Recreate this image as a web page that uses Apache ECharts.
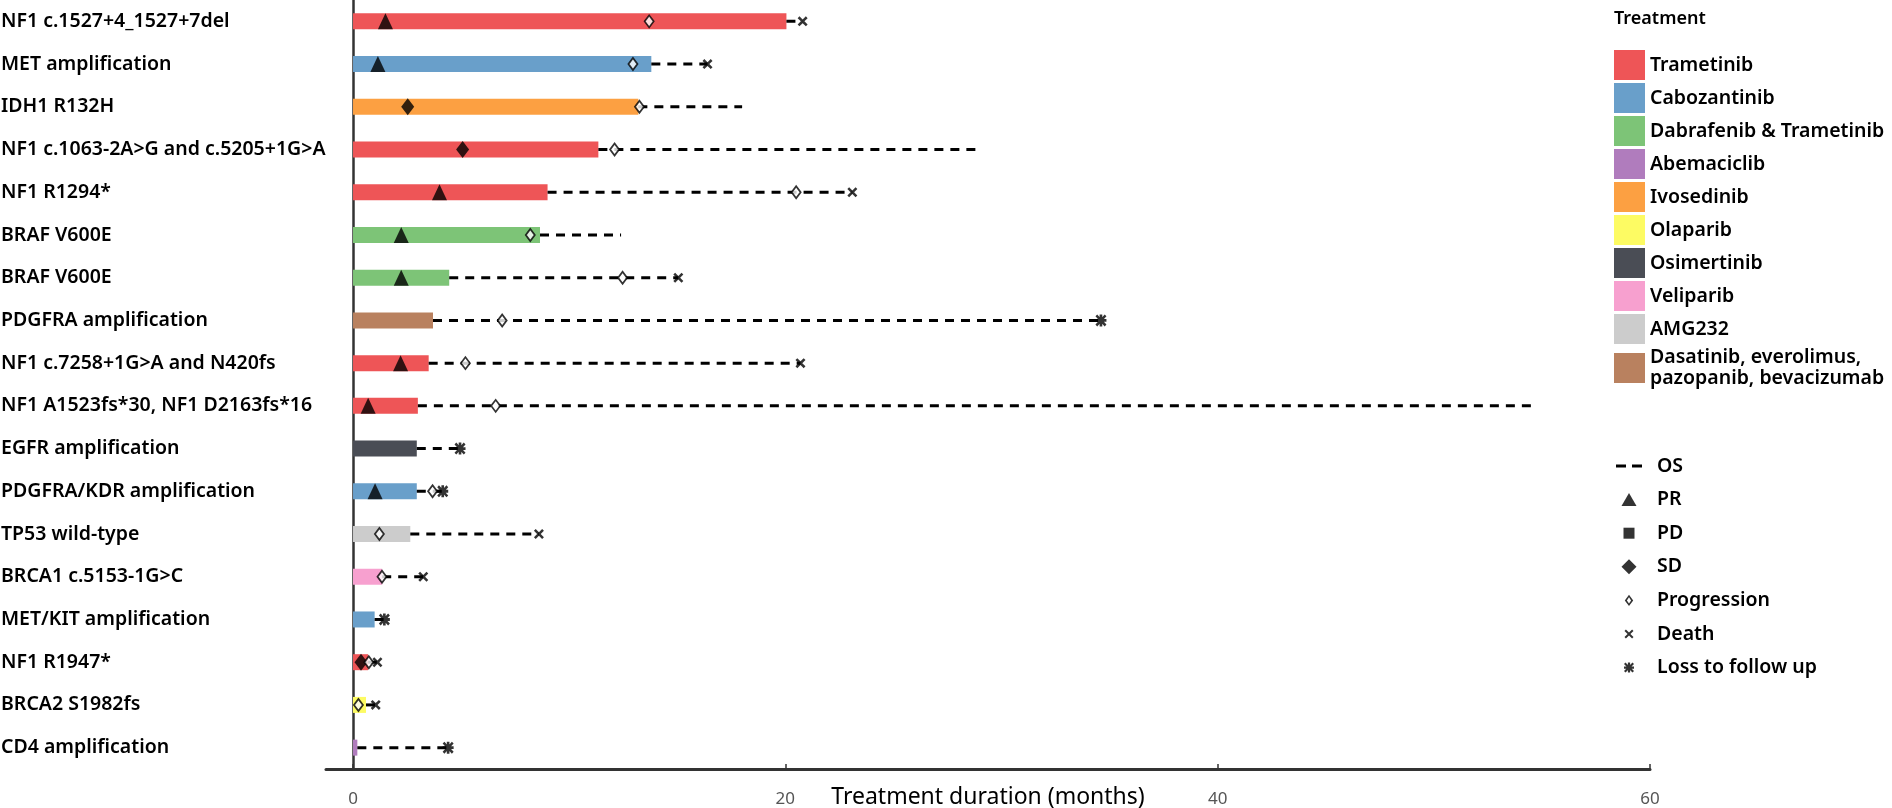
<!DOCTYPE html>
<html>
<head>
<meta charset="utf-8">
<script src="https://cdn.jsdelivr.net/npm/echarts@6/dist/echarts.min.js"></script>
<style>
  html, body { margin: 0; padding: 0; background: #fff; }
  #main { width: 1892px; height: 808px; }
</style>
</head>
<body>
<div id="main"></div>
<script>
// rows, top to bottom
var genes = [
    'NF1 c.1527+4_1527+7del', 'MET amplification', 'IDH1 R132H',
    'NF1 c.1063-2A>G and c.5205+1G>A', 'NF1 R1294*', 'BRAF V600E', 'BRAF V600E',
    'PDGFRA amplification', 'NF1 c.7258+1G>A and N420fs', 'NF1 A1523fs*30, NF1 D2163fs*16',
    'EGFR amplification', 'PDGFRA/KDR amplification', 'TP53 wild-type', 'BRCA1 c.5153-1G>C',
    'MET/KIT amplification', 'NF1 R1947*', 'BRCA2 S1982fs', 'CD4 amplification'
];
var rowTreatment = [
    'Trametinib', 'Cabozantinib', 'Ivosedinib', 'Trametinib', 'Trametinib',
    'Dabrafenib & Trametinib', 'Dabrafenib & Trametinib',
    'Dasatinib, everolimus, pazopanib, bevacizumab', 'Trametinib', 'Trametinib',
    'Osimertinib', 'Cabozantinib', 'AMG232', 'Veliparib', 'Cabozantinib',
    'Trametinib', 'Olaparib', 'Abemaciclib'
];
// treatment duration (months)
var duration = [20.05, 13.8, 13.2, 11.35, 9.0, 8.65, 4.45, 3.7, 3.5, 3.0, 2.95, 2.95, 2.65, 1.35, 1.0, 0.7, 0.6, 0.2];
// overall survival end (months)
var os = [20.8, 16.4, 18.0, 29.05, 23.1, 12.4, 15.05, 34.6, 20.7, 54.6, 4.95, 4.15, 8.6, 3.25, 1.45, 1.1, 1.05, 4.4];

// events: [months, row]
var prPoints = [[1.5, 0], [1.15, 1], [4.0, 4], [2.23, 5], [2.23, 6], [2.2, 8], [0.7, 9], [1.02, 11]];
var pdPoints = [];
var sdPoints = [[2.53, 2], [5.07, 3], [0.37, 15]];
var progressionPoints = [[13.7, 0], [12.95, 1], [13.25, 2], [12.1, 3], [20.5, 4], [8.2, 5], [12.47, 6],
    [6.9, 7], [5.2, 8], [6.6, 9], [3.68, 11], [1.22, 12], [1.34, 13], [0.73, 15], [0.25, 16]];
var deathPoints = [[20.8, 0], [16.4, 1], [23.1, 4], [15.05, 6], [20.7, 8], [8.6, 12], [3.25, 13], [1.13, 15], [1.05, 16]];
var lossPoints = [[34.6, 7], [4.95, 10], [4.15, 11], [1.45, 14], [4.4, 17]];

var treatments = ['Trametinib', 'Cabozantinib', 'Dabrafenib & Trametinib', 'Abemaciclib', 'Ivosedinib',
    'Olaparib', 'Osimertinib', 'Veliparib', 'AMG232', 'Dasatinib, everolimus, pazopanib, bevacizumab'];
var treatmentColors = ['#ee5557', '#699fca', '#7dc477', '#b07cbd', '#fca042',
    '#fdfb63', '#4a4d55', '#f7a0cf', '#cccccc', '#b9815f'];

var xTicks = [0, 20, 40, 60];

var FONT = 'Noto Sans';

// symbol paths
var crossPath = 'path://M0 1.8L1.8 0L5 3.2L8.2 0L10 1.8L6.8 5L10 8.2L8.2 10L5 6.8L1.8 10L0 8.2L3.2 5Z';
var starPath = 'path://M3.8 0h2.4v10h-2.4zM0 3.8h10v2.4H0zM1.6 0L10 8.4L8.4 10L0 1.6ZM10 1.6L1.6 10L0 8.4L8.4 0Z';

// legend icons (36x20 box, symbol centred at 13,10)
var pad = 'M0 0M36 20';
var icons = {
    'OS': 'path://' + pad + 'M0 8.6h10v2.8H0zM16 8.6h10v2.8H16z',
    'PR': 'path://' + pad + 'M13 3.5L20.5 16.5L5.5 16.5Z',
    'PD': 'path://' + pad + 'M7.5 4.5h11v11h-11z',
    'SD': 'path://' + pad + 'M13 2.5L20.5 10L13 17.5L5.5 10Z',
    'Progression': 'path://' + pad + 'M13 4.3L17.2 10L13 15.7L8.8 10ZM13 6.9L10.9 10L13 13.1L15.1 10Z',
    'Death': 'path://' + pad + 'M8.5 6.9L9.9 5.5L13 8.6L16.1 5.5L17.5 6.9L14.4 10L17.5 13.1L16.1 14.5L13 11.4L9.9 14.5L8.5 13.1L11.6 10Z',
    'Loss to follow up': 'path://' + pad + 'M11.9 5h2.2v10h-2.2zM8 8.9h10v2.2H8zM9.5 5L18 13.5L16.5 15L8 6.5ZM18 6.5L9.5 15L8 13.5L16.5 5Z'
};
var eventNames = ['OS', 'PR', 'PD', 'SD', 'Progression', 'Death', 'Loss to follow up'];

var myChart = echarts.init(document.getElementById('main'));

var series = [];
treatments.forEach(function (t, i) {
    series.push({
        name: t,
        type: 'bar',
        stack: 'dur',
        barWidth: 16,
        itemStyle: { color: treatmentColors[i] },
        data: duration.map(function (d, r) { return rowTreatment[r] === t ? d : '-'; }),
        z: 1
    });
});

series.push({
    name: 'OS',
    type: 'custom',
    itemStyle: { color: '#000' },
    renderItem: function (params, api) {
        var a = api.coord([api.value(0), api.value(2)]);
        var b = api.coord([api.value(1), api.value(2)]);
        return {
            type: 'line',
            shape: { x1: a[0], y1: a[1], x2: b[0], y2: b[1] },
            style: { stroke: '#000', lineWidth: 3, lineDash: [9, 7] }
        };
    },
    encode: { x: [0, 1], y: 2 },
    data: duration.map(function (d, r) { return [d, os[r], r]; }),
    z: 2
});

function scatter(name, data, symbol, size, style) {
    return {
        name: name, type: 'scatter', data: data, symbol: symbol, symbolSize: size,
        itemStyle: style, z: 3, silent: true
    };
}
series.push(scatter('PR', prPoints, 'triangle', [15, 16], { color: '#000' }));
series.push(scatter('PD', pdPoints, 'rect', 11, { color: '#000' }));
series.push(scatter('SD', sdPoints, 'diamond', [13, 17], { color: '#000' }));
series.push(scatter('Progression', progressionPoints, 'diamond', [9, 12],
    { color: '#fff', borderColor: '#000', borderWidth: 1.8 }));
series.push(scatter('Death', deathPoints, crossPath, [10, 10], { color: '#000' }));
series.push(scatter('Loss to follow up', lossPoints, starPath, [11, 12], { color: '#000' }));

option = {
    animation: false,
    title: {
        text: 'Treatment',
        left: 1614,
        top: 10,
        padding: 0,
        textStyle: { fontFamily: FONT, fontSize: 18, fontWeight: 600, color: '#000' }
    },
    legend: [{
        orient: 'vertical',
        left: 1614,
        top: 50,
        padding: 0,
        itemWidth: 31,
        itemHeight: 30,
        itemGap: 3,
        selectedMode: false,
        icon: 'rect',
        data: treatments,
        formatter: function (name) {
            return name.replace('everolimus, ', 'everolimus,\n');
        },
        textStyle: { fontFamily: FONT, fontSize: 19.5, fontWeight: 600, color: '#000', lineHeight: 21 }
    }, {
        orient: 'vertical',
        left: 1616,
        top: 456,
        padding: 0,
        itemWidth: 36,
        itemHeight: 20,
        itemGap: 13.6,
        selectedMode: false,
        data: eventNames.map(function (n) {
            return { name: n, icon: icons[n], itemStyle: { color: '#000', borderWidth: 0 } };
        }),
        textStyle: { fontFamily: FONT, fontSize: 19.5, fontWeight: 600, color: '#000', lineHeight: 20 }
    }],
    grid: { left: 326, right: 242, top: 0, bottom: 39, containLabel: false, outerBoundsMode: 'none' },
    xAxis: {
        type: 'value',
        min: -1.25,
        max: 60,
        name: 'Treatment duration (months)',
        nameLocation: 'middle',
        nameGap: 17,
        nameMoveOverlap: false,
        nameTextStyle: { fontFamily: FONT, fontSize: 23, color: '#000' },
        axisLine: { show: true, lineStyle: { color: '#333', width: 3 } },
        axisTick: { show: true, inside: true, length: 5, customValues: xTicks, lineStyle: { color: '#333', width: 1.5 } },
        axisLabel: { customValues: xTicks, fontFamily: FONT, fontSize: 17, color: '#555', margin: 22 },
        splitLine: { show: false }
    },
    yAxis: {
        type: 'category',
        data: genes,
        inverse: true,
        axisLine: { show: true, lineStyle: { color: '#333', width: 2.5 } },
        axisTick: { show: false },
        axisLabel: { align: 'left', margin: 325, fontFamily: FONT, fontSize: 19.5, fontWeight: 600, color: '#000' }
    },
    series: series
};

myChart.setOption(option);
</script>
</body>
</html>
